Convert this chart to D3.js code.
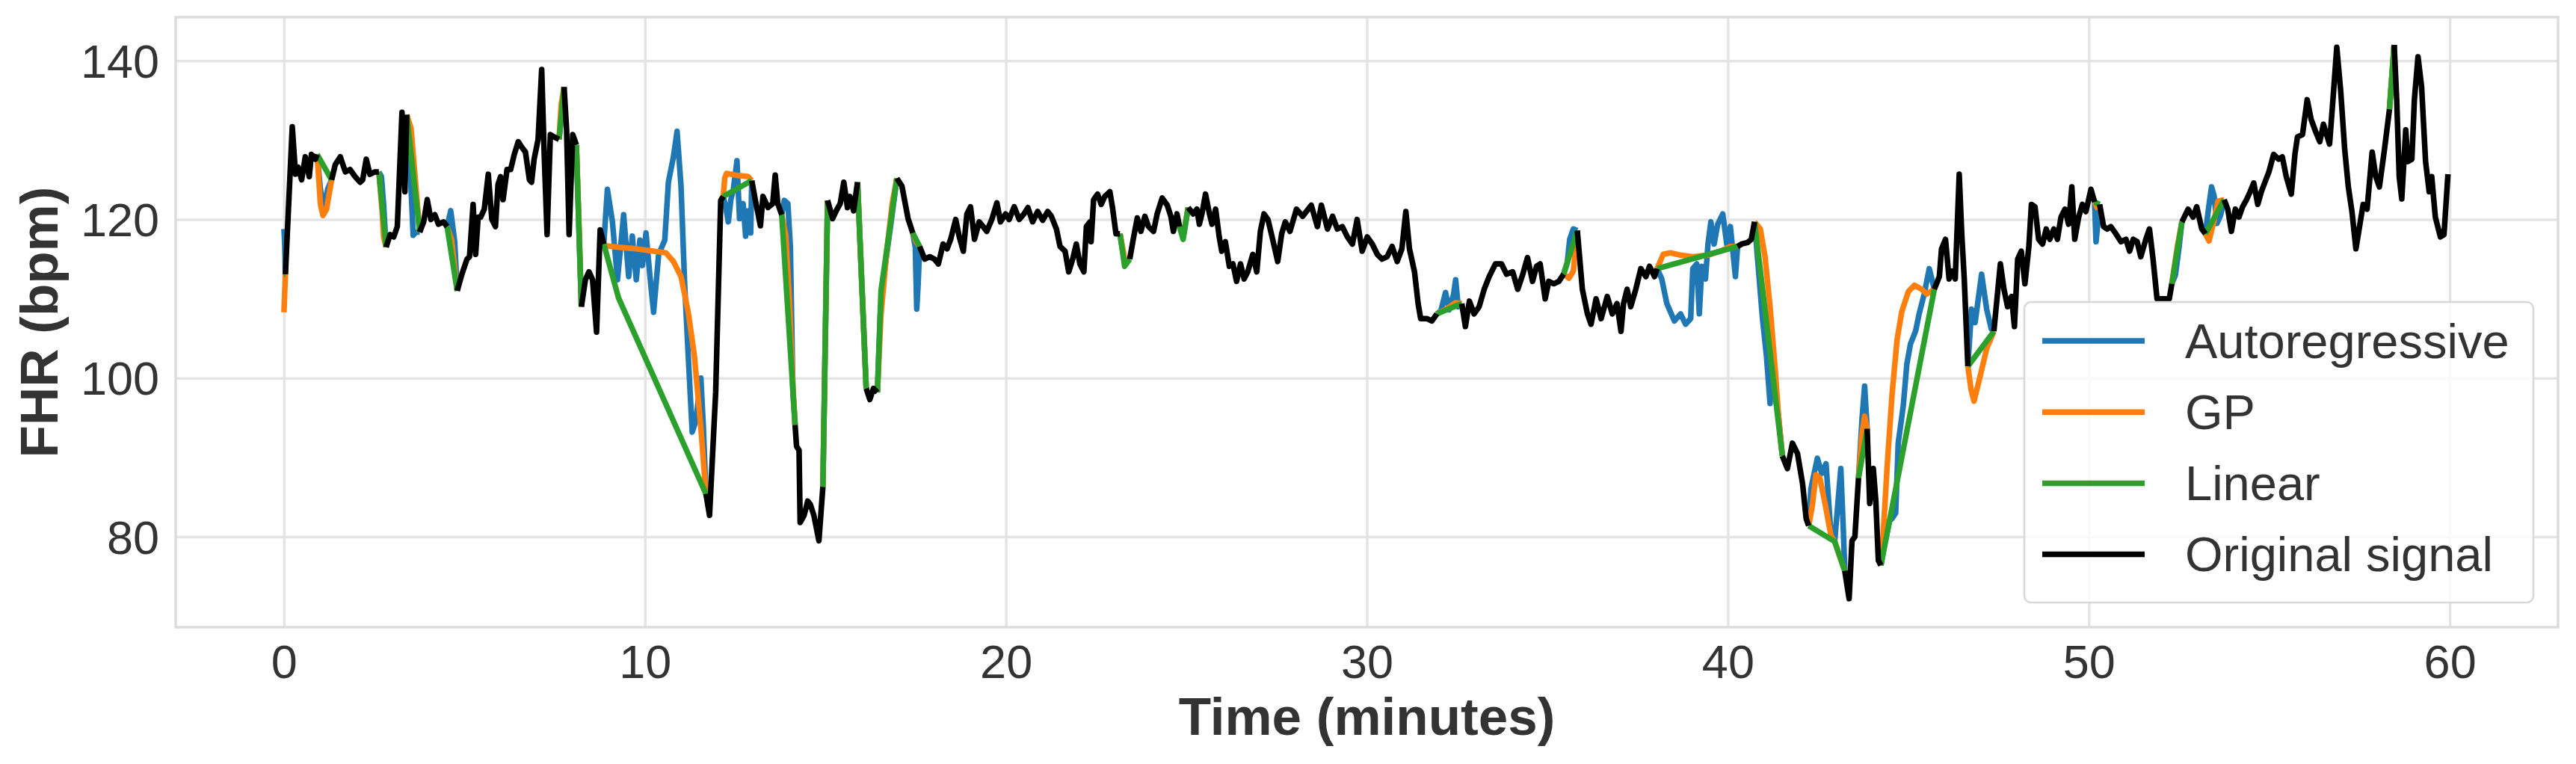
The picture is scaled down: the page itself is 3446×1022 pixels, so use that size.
<!DOCTYPE html>
<html>
<head>
<meta charset="utf-8">
<script src="https://cdn.jsdelivr.net/npm/d3@7"></script>
<style>
  html, body { margin: 0; padding: 0; background: #ffffff; }
  svg { display: block; font-family: "Liberation Sans", Arial, "DejaVu Sans", sans-serif; }
</style>
</head>
<body>
<svg id="chart" width="3446" height="1022"></svg>
<script>
// ---------------- DATA ----------------
const xTicks = [0, 10, 20, 30, 40, 50, 60];
const yTicks = [80, 100, 120, 140];
const seriesNames = ["Autoregressive", "GP", "Linear", "Original signal"];
const seriesColors = ["#1f77b4", "#ff7f0e", "#2ca02c", "#000000"];

// Original signal: [minutes, bpm]; null marks a missing stretch
const originalSignal = [
  [0.04,113.1],[0.23,131.7],[0.32,125.7],[0.39,126.6],[0.49,125.0],[0.59,127.9],[0.70,125.4],[0.76,128.2],[0.87,127.6],[0.92,128.2],
  null,
  [1.32,125.0],[1.42,126.9],[1.56,127.9],[1.70,126.0],[1.83,126.3],[1.97,125.4],[2.11,124.7],[2.18,125.0],[2.28,127.6],[2.38,125.7],[2.52,126.0],[2.63,126.0],
  null,
  [2.83,116.5],[2.94,118.1],[3.04,117.8],[3.14,119.1],[3.27,133.5],[3.35,123.5],[3.40,133.2],
  null,
  [3.76,118.4],[3.87,119.7],[3.97,122.5],[4.07,120.0],[4.18,120.6],[4.28,119.4],[4.42,119.7],[4.52,119.1],
  null,
  [4.80,111.0],[4.93,113.1],[5.07,115.0],[5.14,115.3],[5.24,121.9],[5.31,115.6],[5.38,120.3],[5.45,120.3],[5.55,121.3],[5.66,125.7],
  [5.76,120.0],[5.86,119.1],[5.93,124.4],[6.00,125.4],[6.07,122.5],[6.18,126.3],[6.28,126.3],[6.38,128.2],[6.49,129.8],[6.59,129.1],
  [6.69,128.5],[6.80,125.0],[6.86,124.7],[6.93,127.6],[7.04,130.1],[7.14,138.9],[7.21,128.2],[7.29,118.1],[7.38,130.7],[7.48,130.4],[7.62,130.1],
  null,
  [7.76,136.7],[7.83,131.3],[7.90,118.1],[8.00,130.7],[8.10,129.4],
  null,
  [8.24,109.0],[8.35,112.4],[8.45,113.4],[8.55,112.4],[8.66,105.8],[8.76,118.7],[8.86,116.9],
  null,
  [11.69,85.4],[11.79,82.7],[11.96,98.2],[12.10,122.4],[12.17,122.9],
  null,
  [12.96,124.9],[13.06,122.4],[13.20,119.2],[13.27,122.9],[13.41,121.5],[13.54,122.0],[13.61,125.6],[13.68,122.0],[13.79,120.6],
  null,
  [14.16,94.1],[14.20,91.4],[14.27,90.9],[14.30,81.8],[14.41,82.7],[14.51,84.5],[14.58,84.1],[14.68,82.7],[14.82,79.5],[14.93,86.3],
  null,
  [15.06,122.4],[15.20,120.1],[15.30,121.1],[15.41,122.0],[15.51,124.7],[15.61,121.5],[15.68,122.9],[15.78,121.1],[15.89,124.7],
  null,
  [16.13,98.7],[16.23,97.3],[16.33,98.7],[16.44,98.2],
  null,
  [16.98,125.2],[17.12,124.2],[17.29,120.1],[17.42,118.3],
  null,
  [17.61,116.6],[17.75,115.0],[17.89,115.3],[18.02,115.0],[18.13,114.4],[18.26,116.9],[18.37,116.3],[18.47,117.5],[18.61,120.0],[18.71,117.8],
  [18.82,116.0],[18.92,120.7],[19.02,121.6],[19.13,117.5],[19.26,119.7],[19.37,119.1],[19.47,118.5],[19.61,120.0],[19.75,122.1],[19.85,119.7],
  [19.99,120.7],[20.09,120.0],[20.23,121.6],[20.37,120.0],[20.50,120.7],[20.61,121.5],[20.74,119.7],[20.88,121.0],[21.02,119.9],[21.16,121.0],
  [21.26,120.4],[21.40,118.8],[21.50,116.6],[21.64,116.0],[21.74,113.4],[21.85,115.0],[21.95,116.9],[22.05,114.4],[22.16,113.4],[22.23,119.1],
  [22.33,119.7],[22.36,117.2],[22.43,122.5],[22.54,123.2],[22.64,121.9],[22.74,122.9],[22.88,123.5],[22.95,121.6],[23.05,118.2],[23.16,118.2],
  null,
  [23.43,115.0],[23.54,117.8],[23.64,120.2],[23.74,118.5],[23.85,120.4],[23.95,119.1],[24.09,118.5],[24.19,120.7],[24.33,122.7],[24.47,121.8],
  [24.57,120.4],[24.64,118.5],[24.74,120.7],[24.81,119.1],
  null,
  [25.05,121.5],[25.19,120.7],[25.29,121.3],[25.36,119.4],[25.43,120.7],[25.53,123.2],[25.64,120.7],[25.71,119.4],[25.81,121.3],[25.91,117.8],
  [25.98,116.0],[26.08,117.2],[26.19,114.1],[26.29,114.4],[26.39,112.2],[26.50,114.4],[26.60,112.5],[26.70,113.4],[26.84,115.6],[26.95,113.4],
  [27.05,118.5],[27.15,120.7],[27.26,120.0],[27.39,117.5],[27.53,114.7],[27.64,118.2],[27.74,119.7],[27.87,118.5],[28.05,121.3],[28.22,120.4],
  [28.46,121.8],[28.63,119.1],[28.74,121.8],[28.91,118.8],[29.05,120.4],[29.18,118.8],[29.32,119.1],[29.46,117.8],[29.60,116.9],[29.73,120.0],
  [29.87,116.0],[30.01,117.8],[30.15,116.9],[30.29,115.6],[30.42,115.0],[30.56,115.3],[30.70,116.6],[30.84,114.7],[30.97,116.3],[31.08,121.0],
  [31.18,116.3],[31.32,113.4],[31.42,109.4],[31.49,107.5],[31.66,107.5],[31.80,107.2],[31.94,108.1],
  null,
  [32.63,109.4],[32.73,106.5],[32.84,109.7],[32.97,108.1],[33.11,109.0],[33.25,111.2],[33.39,112.8],[33.56,114.4],[33.73,114.4],[33.87,113.1],
  [34.04,113.4],[34.18,111.2],[34.32,113.1],[34.45,115.2],[34.59,112.2],[34.70,114.1],[34.80,114.4],[34.94,110.0],[35.04,112.2],[35.18,111.9],
  [35.32,112.2],[35.45,113.1],
  null,
  [35.83,118.6],[35.97,111.2],[36.11,108.1],[36.21,106.8],[36.35,110.0],[36.49,107.5],[36.66,110.3],[36.80,108.1],[36.93,109.4],[37.04,105.9],
  [37.11,109.4],[37.21,111.2],[37.31,109.0],[37.45,111.2],[37.59,113.8],[37.73,112.8],[37.83,114.1],[37.97,112.8],[38.04,113.8],
  null,
  [40.27,116.6],[40.38,116.9],[40.55,117.1],[40.65,117.5],[40.74,119.7],
  null,
  [41.51,90.2],[41.65,88.6],[41.79,91.8],[41.93,90.5],[42.07,86.7],[42.17,82.3],[42.24,81.4],
  null,
  [43.24,75.7],[43.36,72.2],[43.44,79.5],[43.52,80.0],[43.62,87.4],
  null,
  [43.86,93.6],[43.93,84.2],[44.03,88.6],[44.10,84.5],[44.17,77.0],[44.24,76.4],
  null,
  [45.72,111.2],[45.86,112.8],[45.92,116.3],[46.03,117.5],[46.13,112.5],[46.20,113.5],[46.30,112.5],[46.41,125.7],[46.48,118.2],[46.55,112.5],[46.65,101.5],
  null,
  [47.37,105.9],[47.55,114.4],[47.65,111.2],[47.75,109.0],[47.86,110.3],[47.94,106.5],[48.03,115.0],[48.13,116.0],[48.23,111.9],[48.34,116.6],
  [48.41,121.9],[48.51,121.6],[48.61,117.5],[48.72,116.9],[48.82,118.8],[48.92,117.5],[49.03,118.8],[49.13,117.5],[49.23,120.3],[49.34,121.3],
  [49.44,119.4],[49.53,124.1],[49.61,117.5],[49.72,120.3],[49.82,121.9],[49.92,121.0],[50.06,123.8],[50.16,122.2],
  null,
  [50.30,121.9],[50.41,119.1],[50.51,118.8],[50.61,119.1],[50.75,118.2],[50.89,117.2],[51.03,117.5],[51.13,116.0],[51.23,117.5],[51.34,117.2],
  [51.44,115.3],[51.58,117.5],[51.68,118.8],[51.78,115.0],[51.89,110.0],[52.06,110.0],[52.23,110.0],[52.30,111.9],
  null,
  [52.58,119.7],[52.75,121.3],[52.89,120.3],[52.99,121.6],[53.13,118.8],[53.23,118.2],
  null,
  [53.75,122.5],[53.85,121.3],[53.95,118.5],[54.06,121.3],[54.16,120.3],[54.26,121.6],[54.37,122.5],[54.47,123.5],[54.57,124.6],[54.68,121.9],
  [54.78,123.5],[54.88,124.7],[54.99,126.0],[55.12,128.2],[55.26,127.6],[55.36,127.9],[55.47,125.4],[55.61,123.2],[55.71,128.2],[55.78,130.4],
  [55.92,130.7],[56.05,135.1],[56.16,132.6],[56.29,131.0],[56.40,129.8],[56.50,132.0],[56.67,129.5],[56.78,136.1],[56.87,141.7],[56.98,136.1],
  [57.09,128.8],[57.19,124.1],[57.29,121.0],[57.40,116.3],[57.50,119.1],[57.60,121.9],[57.71,121.3],[57.85,128.5],[57.95,125.4],[58.05,124.1],
  [58.19,128.8],[58.33,133.9],
  null,
  [58.46,142.0],[58.53,135.1],[58.60,125.4],[58.67,122.6],[58.78,131.3],[58.84,127.3],[58.95,127.6],[59.02,135.1],[59.12,140.5],[59.22,136.7],
  [59.33,127.3],[59.43,123.5],[59.50,125.4],[59.60,120.3],[59.74,117.8],[59.84,118.1],[59.95,125.7]
];

// Autoregressive imputation inside the gaps
const autoregressive = [
  [0.00,118.8],[0.02,117.0],[0.04,113.1], null,
  [0.92,128.2],[1.01,123.8],[1.11,121.3],[1.21,123.8],[1.32,125.0], null,
  [2.63,126.0],[2.70,125.4],[2.76,121.9],[2.83,116.5], null,
  [3.40,133.2],[3.48,128.0],[3.58,118.0],[3.66,118.4],[3.76,118.4], null,
  [4.52,119.1],[4.62,121.1],[4.73,117.2],[4.80,111.0], null,
  [7.62,130.1],[7.69,133.0],[7.76,136.7], null,
  [8.10,129.4],[8.17,119.0],[8.24,109.0], null,
  [8.86,116.9],[8.96,123.8],[9.10,119.7],[9.24,112.4],[9.41,120.6],[9.55,112.8],[9.65,117.9],[9.76,112.4],[9.86,117.4],[9.93,114.2],
  [10.03,118.3],[10.14,112.8],[10.24,108.3],[10.38,115.6],[10.55,117.4],[10.65,124.7],[10.79,127.9],[10.89,131.1],[11.00,124.2],[11.10,111.9],
  [11.20,102.8],[11.31,93.2],[11.41,94.6],[11.55,100.0],[11.62,93.7],[11.69,85.4], null,
  [12.17,122.9],[12.24,121.5],[12.31,119.7],[12.38,122.5],[12.45,123.8],[12.55,127.4],[12.62,120.1],[12.72,122.0],[12.79,117.9],[12.86,121.1],
  [12.93,118.3],[12.96,124.9], null,
  [13.79,120.6],[13.86,122.4],[13.96,122.0],[14.03,116.5],[14.10,98.2],[14.16,94.1], null,
  [14.93,86.3],[15.06,122.4], null,
  [15.89,124.7],[16.13,98.7], null,
  [16.44,98.2],[16.52,108.0],[16.65,114.0],[16.80,119.0],[16.98,125.2], null,
  [17.42,118.3],[17.49,116.5],[17.53,108.7],[17.57,112.0],[17.61,116.6], null,
  [23.16,118.2],[23.29,114.6],[23.43,115.0], null,
  [24.81,119.1],[24.91,117.8],[25.05,121.5], null,
  [31.94,108.1],[32.05,108.5],[32.18,110.8],[32.28,108.6],[32.40,110.5],[32.46,112.4],[32.53,109.0],[32.63,109.4], null,
  [35.45,113.1],[35.55,114.5],[35.62,117.5],[35.72,118.8],[35.83,118.6], null,
  [38.04,113.8],[38.17,112.5],[38.31,109.4],[38.52,107.2],[38.69,108.1],[38.83,106.8],[38.97,107.5],[39.03,113.8],[39.14,114.4],[39.21,108.1],
  [39.28,114.1],[39.38,112.5],[39.45,116.9],[39.53,119.7],[39.62,116.9],[39.72,119.4],[39.86,120.7],[39.97,116.9],[40.07,119.1],[40.21,112.8],
  [40.27,116.6], null,
  [40.74,119.7],[40.82,115.3],[40.96,107.5],[41.07,102.8],[41.17,96.8],[41.22,101.0],[41.31,99.3],[41.41,94.9],[41.51,90.2], null,
  [42.24,81.4],[42.30,86.0],[42.48,89.9],[42.60,88.0],[42.72,89.2],[42.86,80.1],[42.96,79.4],[43.13,88.6],[43.20,80.8],[43.24,75.7], null,
  [43.62,87.4],[43.72,95.0],[43.79,99.0],[43.86,93.6], null,
  [44.24,76.4],[44.34,79.0],[44.48,82.0],[44.55,82.3],[44.65,83.0],[44.72,91.8],[44.86,96.5],[44.96,101.8],[45.06,104.3],[45.20,105.9],
  [45.30,108.1],[45.44,110.6],[45.58,113.8],[45.72,111.2], null,
  [46.65,101.5],[46.75,108.7],[46.85,107.0],[47.03,113.1],[47.17,108.7],[47.30,106.2],[47.37,105.9], null,
  [50.16,122.2],[50.20,117.2],[50.25,119.5],[50.30,121.9], null,
  [52.30,111.9],[52.40,113.0],[52.50,116.5],[52.58,119.7], null,
  [53.23,118.2],[53.32,121.5],[53.40,124.1],[53.47,123.0],[53.55,119.5],[53.65,120.5],[53.75,122.5], null,
  [58.33,133.9],[58.46,142.0]
];

// Gaussian-process imputation inside the gaps
const gp = [
  [0.00,108.3],[0.04,113.1], null,
  [0.92,128.2],[1.01,121.9],[1.08,120.5],[1.18,121.3],[1.32,125.0], null,
  [2.63,126.0],[2.72,121.0],[2.76,117.8],[2.83,116.5], null,
  [3.40,133.2],[3.52,131.5],[3.64,125.0],[3.76,118.4], null,
  [4.52,119.1],[4.64,117.5],[4.80,111.0], null,
  [7.62,130.1],[7.68,134.5],[7.76,136.7], null,
  [8.10,129.4],[8.17,120.0],[8.24,109.0], null,
  [8.86,116.9],[8.90,116.7],[9.27,116.5],[9.76,116.3],[10.24,116.0],[10.58,115.8],[10.79,114.7],[11.00,112.8],[11.20,108.3],[11.37,102.8],
  [11.55,93.7],[11.69,85.4], null,
  [12.17,122.9],[12.21,125.2],[12.26,125.8],[12.50,125.6],[12.86,125.4],[12.96,124.9], null,
  [13.79,120.6],[13.90,118.0],[14.00,110.0],[14.10,99.0],[14.16,94.1], null,
  [14.93,86.3],[15.06,122.4], null,
  [15.89,124.7],[16.13,98.7], null,
  [16.44,98.2],[16.54,108.0],[16.70,116.0],[16.85,122.0],[16.98,125.2], null,
  [17.42,118.3],[17.51,117.2],[17.61,116.6], null,
  [23.16,118.2],[23.30,114.8],[23.43,115.0], null,
  [24.81,119.1],[24.92,118.0],[25.05,121.5], null,
  [31.94,108.1],[32.20,108.7],[32.45,109.5],[32.63,109.4], null,
  [35.45,113.1],[35.60,112.6],[35.72,113.5],[35.83,118.6], null,
  [38.04,113.8],[38.21,115.6],[38.41,115.8],[38.69,115.5],[39.03,115.3],[39.45,115.5],[39.79,116.0],[40.07,116.6],[40.27,116.6], null,
  [40.74,119.7],[40.90,118.8],[41.03,115.3],[41.17,109.0],[41.31,101.2],[41.41,94.9],[41.51,90.2], null,
  [42.24,81.4],[42.34,83.9],[42.44,87.8],[42.55,87.4],[42.70,84.0],[42.86,80.1],[42.96,79.4],[43.10,77.5],[43.24,75.7], null,
  [43.62,87.4],[43.72,93.0],[43.79,95.2],[43.86,93.6], null,
  [44.24,76.4],[44.30,80.0],[44.41,88.6],[44.55,98.0],[44.69,104.9],[44.82,108.4],[45.00,110.9],[45.17,111.7],[45.37,111.2],[45.51,110.6],
  [45.72,111.2], null,
  [46.65,101.5],[46.74,98.5],[46.82,97.1],[46.95,99.5],[47.17,103.7],[47.37,105.9], null,
  [50.16,122.2],[50.23,121.5],[50.30,121.9], null,
  [52.30,111.9],[52.45,116.5],[52.58,119.7], null,
  [53.23,118.2],[53.33,117.3],[53.45,119.5],[53.58,122.3],[53.75,122.5], null,
  [58.33,133.9],[58.46,142.0]
];

// Linear interpolation inside the gaps
const linear = [
  [0.00,113.1],[0.04,113.1], null,
  [0.92,128.2],[1.32,125.0], null,
  [2.63,126.0],[2.83,116.5], null,
  [3.40,133.2],[3.76,118.4], null,
  [4.52,119.1],[4.80,111.0], null,
  [7.62,130.1],[7.76,136.7], null,
  [8.10,129.4],[8.24,109.0], null,
  [8.86,116.9],[9.27,110.1],[11.69,85.4], null,
  [12.17,122.9],[12.96,124.9], null,
  [13.79,120.6],[14.16,94.1], null,
  [14.93,86.3],[15.06,122.4], null,
  [15.89,124.7],[16.13,98.7], null,
  [16.44,98.2],[16.54,111.0],[16.98,125.2], null,
  [17.42,118.3],[17.61,116.6], null,
  [23.16,118.2],[23.29,114.1],[23.43,115.0], null,
  [24.81,119.1],[24.91,117.5],[25.05,121.5], null,
  [31.94,108.1],[32.63,109.4], null,
  [35.45,113.1],[35.83,118.6], null,
  [38.04,113.8],[40.27,116.6], null,
  [40.74,119.7],[41.51,90.2], null,
  [42.24,81.4],[42.96,79.4],[43.24,75.7], null,
  [43.62,87.4],[43.86,93.6], null,
  [44.24,76.4],[45.72,111.2], null,
  [46.65,101.5],[47.37,105.9], null,
  [50.16,122.2],[50.30,121.9], null,
  [52.30,111.9],[52.58,119.7], null,
  [53.23,118.2],[53.75,122.5], null,
  [58.33,133.9],[58.46,142.0]
];

// ---------------- CHART ----------------
const W = 3446, H = 1022;
const plot = { left: 235, right: 3422, top: 23, bottom: 839 };
const svg = d3.select("#chart");

const x = d3.scaleLinear().domain([-3, 63]).range([plot.left, plot.right]);
const y = d3.scaleLinear().domain([68.6, 145.5]).range([plot.bottom, plot.top]);

const gridColor = "#e4e4e4";
const textColor = "#333333";

// grid via axes
const gx = svg.append("g")
  .attr("transform", `translate(0,${plot.bottom})`)
  .call(d3.axisBottom(x).tickValues(xTicks).tickSize(-(plot.bottom - plot.top)).tickFormat(d3.format("d")).tickPadding(0));
gx.select(".domain").remove();
gx.selectAll(".tick line").attr("stroke", gridColor).attr("stroke-width", 3.5);
gx.selectAll(".tick text")
  .attr("y", 46).attr("dy", "0.35em")
  .attr("fill", textColor).style("font-size", "63px")
  .style("font-family", '"Liberation Sans", Arial, sans-serif');

const gy = svg.append("g")
  .attr("transform", `translate(${plot.left},0)`)
  .call(d3.axisLeft(y).tickValues(yTicks).tickSize(-(plot.right - plot.left)).tickFormat(d3.format("d")).tickPadding(0));
gy.select(".domain").remove();
gy.selectAll(".tick line").attr("stroke", gridColor).attr("stroke-width", 3.5);
gy.selectAll(".tick text")
  .attr("x", -22).attr("dy", "0.35em")
  .attr("fill", textColor).style("font-size", "63px")
  .style("font-family", '"Liberation Sans", Arial, sans-serif');

// frame
svg.append("rect")
  .attr("x", plot.left).attr("y", plot.top)
  .attr("width", plot.right - plot.left).attr("height", plot.bottom - plot.top)
  .attr("fill", "none").attr("stroke", "#dcdcdc").attr("stroke-width", 3.5);

// clip
svg.append("clipPath").attr("id", "clip").append("rect")
  .attr("x", plot.left).attr("y", plot.top)
  .attr("width", plot.right - plot.left).attr("height", plot.bottom - plot.top);

const line = d3.line()
  .defined(d => d !== null)
  .x(d => x(d[0]))
  .y(d => y(d[1]));

const lines = svg.append("g").attr("clip-path", "url(#clip)");
const allSeries = [autoregressive, gp, linear, originalSignal];
allSeries.forEach((data, i) => {
  lines.append("path")
    .datum(data)
    .attr("d", line)
    .attr("fill", "none")
    .attr("stroke", seriesColors[i])
    .attr("stroke-width", 7.5)
    .attr("stroke-linejoin", "round")
    .attr("stroke-linecap", "butt");
});

// axis titles
svg.append("text")
  .attr("x", (plot.left + plot.right) / 2).attr("y", 983)
  .attr("text-anchor", "middle")
  .attr("fill", textColor)
  .style("font-size", "71px").style("font-weight", "bold")
  .text("Time (minutes)");

svg.append("text")
  .attr("transform", `translate(77,${(plot.top + plot.bottom) / 2}) rotate(-90)`)
  .attr("text-anchor", "middle")
  .attr("fill", textColor)
  .style("font-size", "71px").style("font-weight", "bold")
  .text("FHR (bpm)");

// legend
const lg = svg.append("g");
lg.append("rect")
  .attr("x", 2708).attr("y", 404)
  .attr("width", 3389 - 2708).attr("height", 806 - 404)
  .attr("rx", 9).attr("ry", 9)
  .attr("fill", "#ffffff").attr("fill-opacity", 0.8)
  .attr("stroke", "#d8d8d8").attr("stroke-width", 2.5);

seriesNames.forEach((name, i) => {
  const ly = 456 + i * 95.2;
  lg.append("line")
    .attr("x1", 2732).attr("x2", 2869)
    .attr("y1", ly).attr("y2", ly)
    .attr("stroke", seriesColors[i]).attr("stroke-width", 7.5);
  lg.append("text")
    .attr("x", 2923).attr("y", ly).attr("dy", "0.35em")
    .attr("fill", textColor)
    .style("font-size", "65px")
    .text(name);
});
</script>
</body>
</html>
